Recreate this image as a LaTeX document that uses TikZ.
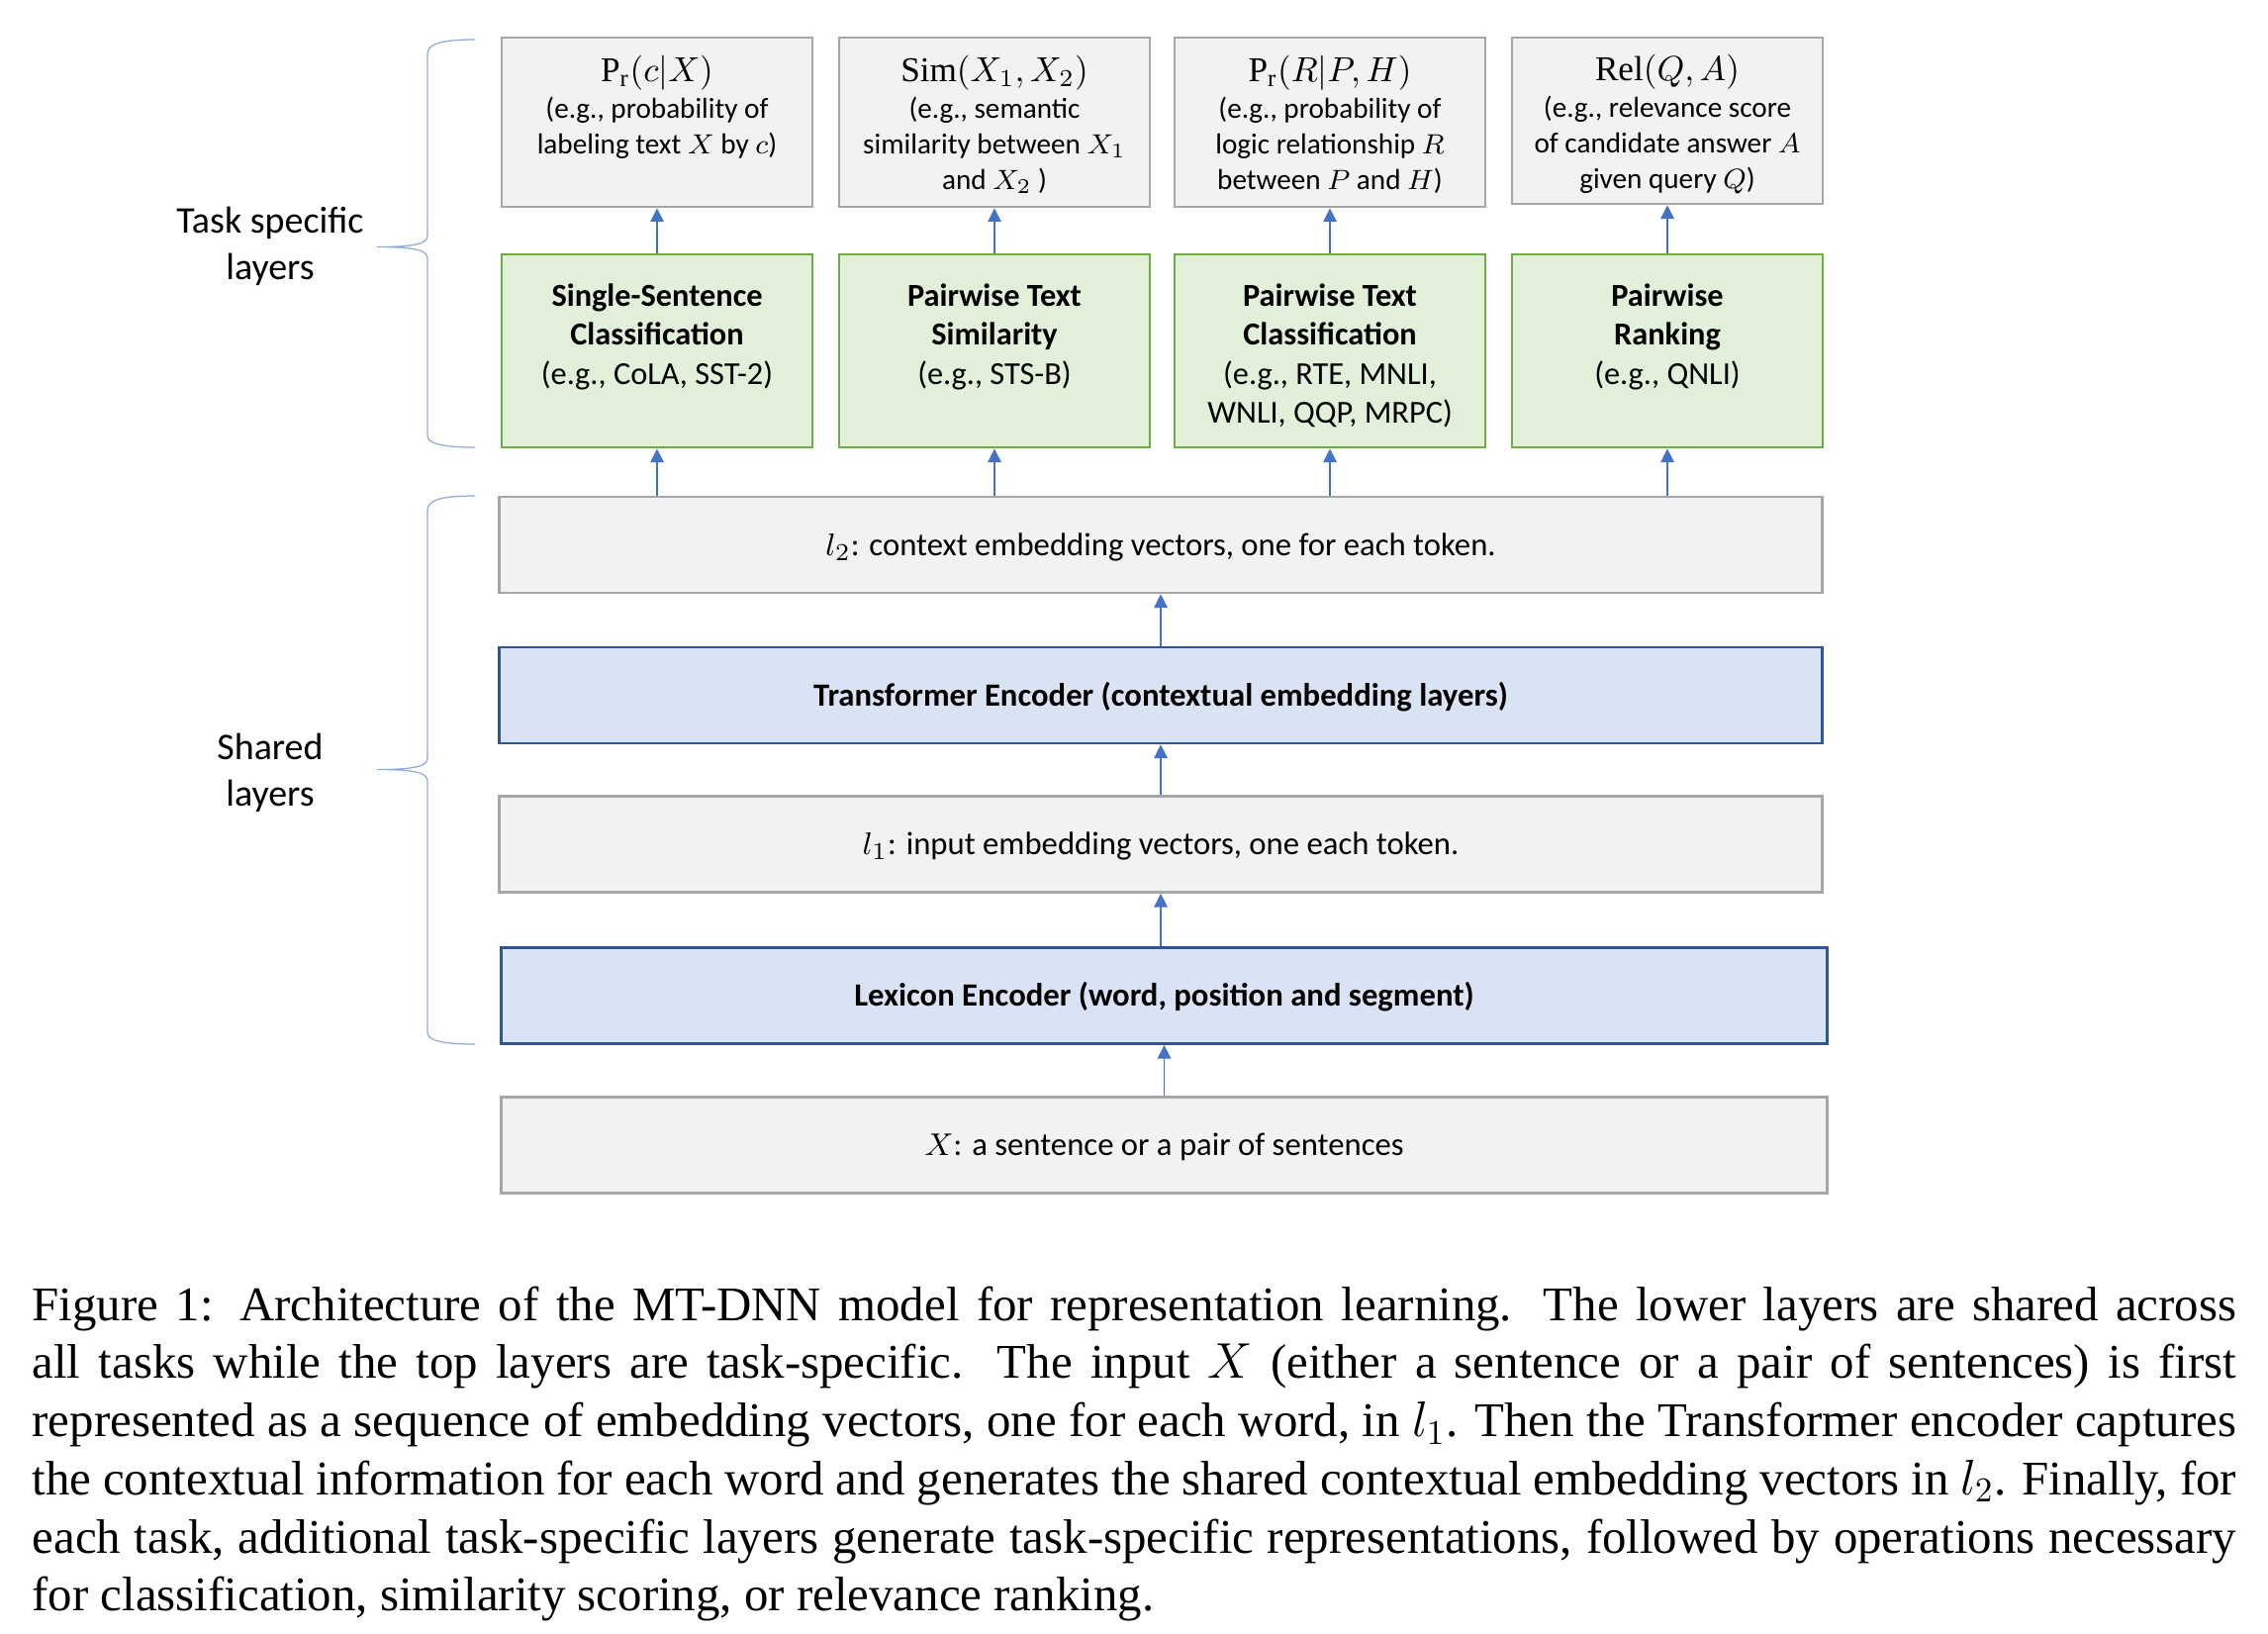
\documentclass[tikz,border=0pt]{standalone}
\usepackage{amsmath,amssymb}
\usepackage{fontspec}
\setmainfont{Liberation Serif}
\newfontfamily\calibri{Carlito}
\usepackage{xcolor}
\usepackage{tikz}
\usetikzlibrary{arrows.meta}
\definecolor{fillgray}{HTML}{F2F2F2}
\definecolor{linegray}{HTML}{A6A6A6}
\definecolor{fillgreen}{HTML}{E2F0D9}
\definecolor{linegreen}{HTML}{70AD47}
\definecolor{fillblue}{HTML}{DAE3F3}
\definecolor{lineblue}{HTML}{2F5597}
\definecolor{arrowblue}{HTML}{4472C4}
\definecolor{braceblue}{HTML}{8FAADC}

\begin{document}
\begin{tikzpicture}[x=0.01cm,y=-0.01cm,
  outbox/.style={rectangle,draw=linegray,fill=fillgray,line width=0.7pt,inner sep=0pt,minimum width=3.14cm,minimum height=1.71cm},
  taskbox/.style={rectangle,draw=linegreen,fill=fillgreen,line width=0.7pt,inner sep=0pt,minimum width=3.14cm,minimum height=1.95cm},
  layerbox/.style={rectangle,draw=linegray,fill=fillgray,line width=0.7pt,inner sep=0pt,minimum width=13.36cm,minimum height=0.97cm,text height=7.2pt,text depth=1.1pt,font=\calibri\fontsize{9.3}{11.2}\selectfont},
  encbox/.style={layerbox,draw=lineblue,fill=fillblue,font=\calibri\bfseries\fontsize{9.3}{11.2}\selectfont},
  outtxt/.style={anchor=north,align=center,inner sep=0pt,font=\calibri\fontsize{8.3}{10.2}\selectfont},
  tasktxt/.style={anchor=north,align=center,inner sep=0pt,font=\calibri\fontsize{9.2}{11.2}\selectfont},
  sidetxt/.style={align=center,inner sep=0pt,font=\calibri\fontsize{10.8}{13.4}\selectfont},
  captxt/.style={anchor=north west,inner sep=0pt,text width=22.26cm,align=justify,font=\fontsize{13.9}{16.7}\selectfont},
  arr/.style={draw=arrowblue,line width=0.45pt,-{Triangle[length=3.9pt,width=3.8pt]}},
  brc/.style={draw=braceblue,line width=0.35pt}]
%
\useasboundingbox (0,0) rectangle (2292,1650);
%
% task specific layers
\node[outbox] (o1) at (664,123.5) {};
\node[outbox] (o2) at (1005,123.5) {};
\node[outbox] (o3) at (1344,123.5) {};
\node[outbox,minimum height=1.68cm] (o4) at (1685,122) {};
\node[outtxt] (o1t) at (664,55.5) {{\fontsize{10}{12}\selectfont$\mathrm{P}_{\mathrm{r}}(c|X)$}\\[0.4pt](e.g., probability of\\labeling text $X$ by $c$)};
\node[outtxt] (o2t) at (1005,55.5) {{\fontsize{10}{12}\selectfont$\mathrm{Sim}(X_1,X_2)$}\\[0.4pt](e.g., semantic\\similarity between $X_1$\\and $X_2$ )};
\node[outtxt] (o3t) at (1344,55.5) {{\fontsize{10}{12}\selectfont$\mathrm{P}_{\mathrm{r}}(R|P,H)$}\\[0.4pt](e.g., probability of\\logic relationship $R$\\between $P$ and $H$)};
\node[outtxt] (o4t) at (1685,54) {{\fontsize{10}{12}\selectfont$\mathrm{Rel}(Q,A)$}\\[0.4pt](e.g., relevance score\\of candidate answer $A$\\given query $Q$)};
%
\node[taskbox] (g1) at (664,354.5) {};
\node[taskbox] (g2) at (1005,354.5) {};
\node[taskbox] (g3) at (1344,354.5) {};
\node[taskbox] (g4) at (1685,354.5) {};
\node[tasktxt] (g1t) at (664,286) {\textbf{Single-Sentence}\\\textbf{Classification}\\(e.g., CoLA, SST-2)};
\node[tasktxt] (g2t) at (1005,286) {\textbf{Pairwise Text}\\\textbf{Similarity}\\(e.g., STS-B)};
\node[tasktxt] (g3t) at (1344,286) {\textbf{Pairwise Text}\\\textbf{Classification}\\(e.g., RTE, MNLI,\\WNLI, QQP, MRPC)};
\node[tasktxt] (g4t) at (1685,286) {\textbf{Pairwise}\\\textbf{Ranking}\\(e.g., QNLI)};
%
% shared layers
\node[layerbox] (l2) at (1173,550.5) {$l_2$: context embedding vectors, one for each token.};
\node[encbox] (enc) at (1173,702.5) {Transformer Encoder (contextual embedding layers)};
\node[layerbox] (l1) at (1173,853) {$l_1$: input embedding vectors, one each token.};
\node[encbox,minimum width=13.39cm] (lex) at (1176.5,1006) {Lexicon Encoder (word, position and segment)};
\node[layerbox,minimum width=13.39cm] (x) at (1176.5,1157) {$X$: a sentence or a pair of sentences};
%
\draw[arr] (g1) -- (o1);
\draw[arr] (g2) -- (o2);
\draw[arr] (g3) -- (o3);
\draw[arr] (g4) -- (o4);
\draw[arr] (g1 |- l2.north) -- (g1);
\draw[arr] (g2 |- l2.north) -- (g2);
\draw[arr] (g3 |- l2.north) -- (g3);
\draw[arr] (g4 |- l2.north) -- (g4);
\draw[arr] (enc) -- (l2);
\draw[arr] (l1) -- (enc);
\draw[arr] (l1 |- lex.north) -- (l1);
\draw[arr] (x) -- (lex);
%
% braces and their labels
\draw[brc] (480,40) .. controls (446,40) and (432,44) .. (432,55) -- (432,238)
  .. controls (432,246) and (420,249.5) .. (381,249.5)
  .. controls (420,249.5) and (432,253) .. (432,261) -- (432,440)
  .. controls (432,448) and (446,452) .. (480,452);
\draw[brc] (480,501) .. controls (446,501) and (432,505) .. (432,516) -- (432,766)
  .. controls (432,774) and (420,777.5) .. (381,777.5)
  .. controls (420,777.5) and (432,781) .. (432,789) -- (432,1043)
  .. controls (432,1051) and (446,1055) .. (480,1055);
\node[sidetxt] (tsl) at (273,248.5) {Task specific\\layers};
\node[sidetxt] (shl) at (273,780.5) {Shared\\layers};
%
% caption
\node[captxt] (cap) at (32,1299) {\noindent Figure 1: Architecture of the MT-DNN model for representation learning. The lower layers are shared across\linebreak
all tasks while the top layers are task-specific. The input $X$ (either a sentence or a pair of sentences) is first\linebreak
represented as a sequence of embedding vectors, one for each word, in $l_1$. Then the Transformer encoder captures\linebreak
the contextual information for each word and generates the shared contextual embedding vectors in $l_2$. Finally, for\linebreak
each task, additional task-specific layers generate task-specific representations, followed by operations necessary\linebreak
for classification, similarity scoring, or relevance ranking.};
%
\end{tikzpicture}
\end{document}
